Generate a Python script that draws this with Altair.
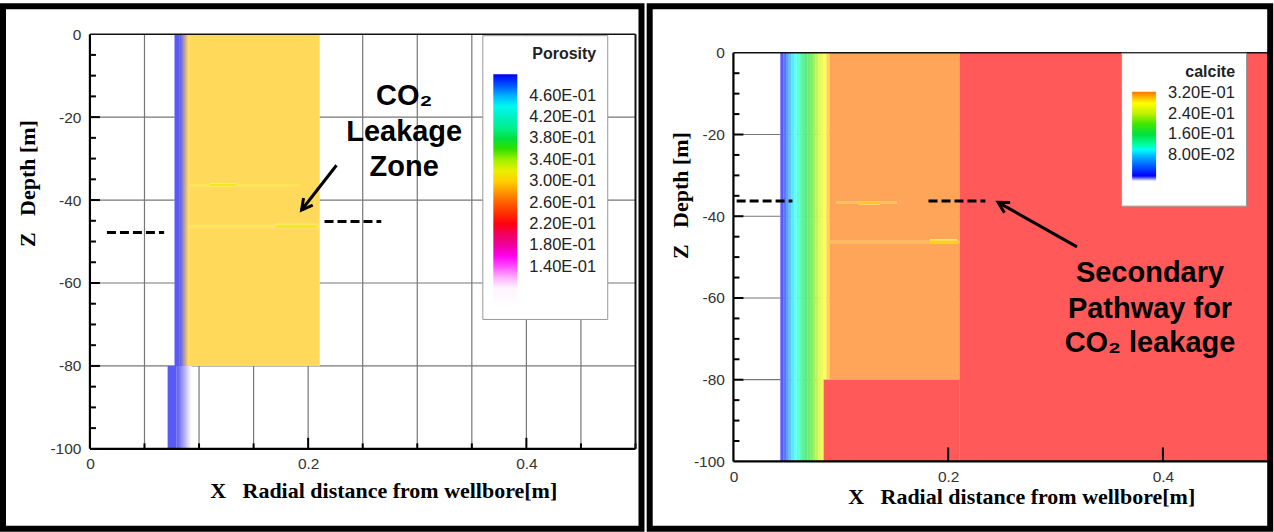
import altair as alt
import pandas as pd

SANS = "Liberation Sans"
SERIF = "Liberation Serif"
NB = "\u00a0"

# ---------------- shared axes / ticks ----------------
X_DOMAIN = [0.0, 0.5]
LEFT_Y_DOMAIN = [-100, 0]
RIGHT_Y_DOMAIN = [-100, 4.55]   # room above z=0 so both plot tops line up
x_label_values = [0, 0.2, 0.4]
y_label_values = [0, -20, -40, -60, -80, -100]
x_grid_values = [0.05, 0.10, 0.15, 0.20, 0.25, 0.30, 0.35, 0.40, 0.45]
y_grid_values = [-20, -40, -60, -80]
y_major_ticks = [-20, -40, -60, -80]
y_minor_ticks = [-5, -10, -15, -25, -30, -35, -45, -50, -55, -65, -70, -75, -85, -90, -95]
left_x_major_ticks = [0.2, 0.4]
left_x_minor_ticks = [0.05, 0.10, 0.15, 0.25, 0.30, 0.35, 0.45, 0.50]
right_x_major_ticks = [0.2, 0.4]
z_top, z_bottom = 0, -100
x_left, x_right = 0.0, 0.5
X_TITLE = "X" + NB * 3 + "Radial distance from wellbore[m]"
Y_TITLE = "Z" + NB * 3 + "Depth [m]"

# ---------------- left panel: porosity ----------------
por_domain = [0.063, 0.10, 0.12, 0.14, 0.16, 0.18, 0.20, 0.22, 0.24, 0.26, 0.28, 0.30,
              0.32, 0.34, 0.36, 0.38, 0.40, 0.42, 0.44, 0.46, 0.48, 0.50]
por_colors = ["#FFFFFF", "#FFF4FF", "#FFB0FF", "#FF50FF", "#FF00F0", "#F000A0", "#F00060",
              "#FF0010", "#FF3000", "#FF6000", "#FF9800", "#FFD000", "#E8F000",
              "#A0F000", "#30E000", "#00E040", "#00F090", "#00F0C0", "#00F8F0",
              "#00B0FF", "#0050FF", "#0000F0"]
por_legend_values = [0.14, 0.18, 0.22, 0.26, 0.30, 0.34, 0.38, 0.42, 0.46]

por_x0 = [0.0775, 0.0900, 0.0712]
por_x1 = [0.0824, 0.2106, 0.0794]
por_ztop = [0, 0, -80]
por_zbot = [-80, -80, -100]
por_val = [0.50, 0.296, 0.50]

blend_x0 = [0.0824]
blend_x1 = [0.0900]
blend_ztop = [0]
blend_zbot = [-80]
fade_x0 = [0.0794]
fade_x1 = [0.0931]
fade_ztop = [-80]
fade_zbot = [-100]

por_streak_x0 = [0.092, 0.110, 0.090, 0.170]
por_streak_x1 = [0.192, 0.134, 0.210, 0.208]
por_streak_ztop = [-36.1, -36.0, -46.1, -45.7]
por_streak_zbot = [-36.7, -36.8, -46.8, -46.7]
por_streak_val = [0.303, 0.313, 0.303, 0.313]

por_dash_x0 = [0.0156, 0.215]
por_dash_x1 = [0.068, 0.267]
por_dash_z = [-47.8, -45.2]

por_arrow_x0 = [0.226]
por_arrow_z0 = [-31.6]
por_arrow_x1 = [0.194]
por_arrow_z1 = [-42.4]

por_text = ["CO\u2082", "Leakage", "Zone"]
por_text_x = [0.288, 0.288, 0.288]
por_text_z = [-14.9, -23.5, -32.0]

# ---------------- right panel: calcite ----------------
cal_domain = [-0.072, -0.0001, 0.0, 0.04, 0.08, 0.10, 0.12, 0.16, 0.20, 0.24, 0.28, 0.30, 0.324]
cal_colors = ["#FFFFFF", "#FFFFFF", "#0000FF", "#0060FF", "#00C0FF", "#00FFFF", "#00FFA0", "#00E040",
              "#40E800", "#C0F000", "#FFFF00", "#FFC000", "#FF7400"]
cal_legend_values = [0.08, 0.16, 0.24, 0.32]

cal_x0 = [0.0437, 0.0465, 0.0490, 0.0515, 0.0540, 0.0565, 0.0590, 0.0615, 0.0640, 0.0665,
          0.0690, 0.0715, 0.0740, 0.0765, 0.0790, 0.0815, 0.0840, 0.0865, 0.0896]
cal_x1 = [0.0465, 0.0490, 0.0515, 0.0540, 0.0565, 0.0590, 0.0615, 0.0640, 0.0665, 0.0690,
          0.0715, 0.0740, 0.0765, 0.0790, 0.0815, 0.0840, 0.0865, 0.0896, 0.2105]
cal_ztop = [0, 0, 0, 0, 0, 0, 0, 0, 0, 0, 0, 0, 0, 0, 0, 0, 0, 0, 0]
cal_zbot = [-100, -100, -100, -100, -100, -100, -100, -100, -100, -100,
            -100, -100, -100, -100, -100, -100, -80, -80, -80]
cal_val = [0.000, 0.020, 0.045, 0.070, 0.090, 0.102, 0.115, 0.130, 0.150, 0.165,
           0.180, 0.195, 0.215, 0.230, 0.250, 0.265, 0.280, 0.300, 0.324]

red_x0 = [0.2105, 0.0840]
red_x1 = [0.5, 0.2105]
red_ztop = [0, -80]
red_zbot = [-100, -100]

cal_streak_x0 = [0.096, 0.117, 0.090, 0.183]
cal_streak_x1 = [0.152, 0.136, 0.2105, 0.208]
cal_streak_ztop = [-36.4, -36.3, -46.0, -45.6]
cal_streak_zbot = [-37.0, -37.1, -46.6, -46.6]
cal_streak_val = [0.310, 0.296, 0.312, 0.292]

cal_dash_x0 = [0.003, 0.1817]
cal_dash_x1 = [0.055, 0.2347]
cal_dash_z = [-36.3, -36.3]

cal_arrow_x0 = [0.320]
cal_arrow_z0 = [-47.5]
cal_arrow_x1 = [0.2465]
cal_arrow_z1 = [-36.6]

cal_text = ["Secondary", "Pathway for", "CO\u2082 leakage"]
cal_text_x = [0.388, 0.388, 0.388]
cal_text_z = [-53.9, -62.6, -71.1]

SCI = ("format(datum.value / pow(10, floor(log(datum.value) / LN10)), '.2f') + 'E-0' + "
       "(-floor(log(datum.value) / LN10))")


def x_axis(tx, ty):
    return alt.Axis(values=x_label_values, labelExpr="'' + datum.value", ticks=False, grid=False,
                    domain=False, labelFont=SANS, labelFontSize=15.5,
                    labelColor="#333333", labelPadding=8, labelFlush=False, title=X_TITLE,
                    titleFont=SERIF, titleFontSize=22, titleFontWeight="bold", titleColor="black",
                    titleX=tx, titleY=ty, titleBaseline="middle", titleAlign="center")


def y_axis(tx, ty):
    return alt.Axis(values=y_label_values, labelExpr="'' + datum.value", ticks=False, grid=False,
                    domain=False, labelFont=SANS, labelFontSize=15.5,
                    labelColor="#333333", labelPadding=9, labelFlush=False, title=Y_TITLE,
                    titleFont=SERIF, titleFontSize=22, titleFontWeight="bold", titleColor="black",
                    titleX=tx, titleY=ty, titleAngle=270, titleBaseline="middle",
                    titleAlign="center")


def legend(title, lx, ly, length, values):
    return alt.Legend(title=title, orient="none", legendX=lx, legendY=ly, direction="vertical",
                      gradientLength=length, gradientThickness=24, values=values, labelExpr=SCI,
                      labelFont=SANS, labelFontSize=16.5, labelColor="#222222", labelOffset=12,
                      labelOverlap=False, titleFont=SANS, titleFontSize=16, titleFontWeight="bold",
                      titleColor="#222222", titleAnchor="end", titlePadding=12, padding=11,
                      fillColor="white", strokeColor="#999999", gradientStrokeWidth=0)


def cells(x0, x1, z0, z1, val=None):
    d = {"x0": x0, "x1": x1, "z0": z0, "z1": z1}
    if val is not None:
        d["val"] = val
    return pd.DataFrame(d)


def panel(W, H, ydom, color, field_fn, streak_df, dash, arrow, angle, texts,
          x_major, x_major_len, x_minor, frame, xt, yt):
    XA = x_axis(*xt)
    YA = y_axis(*yt)
    XS = alt.Scale(domain=X_DOMAIN, nice=False, zero=False)
    YS = alt.Scale(domain=ydom, nice=False, zero=False)

    def xf(f):
        return alt.X(f"{f}:Q", scale=XS, axis=XA)

    def yf(f):
        return alt.Y(f"{f}:Q", scale=YS, axis=YA)

    def rect_base(df):
        return alt.Chart(df).encode(x=xf("x0"), x2="x1", y=yf("z0"), y2="z1")

    def pastel(df, col):
        base = rect_base(df)
        return [base.mark_rect(color="white"), base.mark_rect(fillOpacity=0.65).encode(color=col)]

    def vlines(vals, color, width):
        df = pd.DataFrame({"g": vals, "a": [z_top] * len(vals), "b": [z_bottom] * len(vals)})
        return alt.Chart(df).mark_rule(color=color, strokeWidth=width).encode(x=xf("g"), y=yf("a"), y2="b")

    def hlines(vals, color, width):
        return alt.Chart(pd.DataFrame({"g": vals})).mark_rule(color=color, strokeWidth=width).encode(y=yf("g"))

    layers = [vlines(x_grid_values, "#777777", 1.2), hlines(y_grid_values, "#777777", 1.2)]
    layers += field_fn(rect_base, pastel)
    layers += pastel(streak_df, color)
    layers.append(alt.Chart(pd.DataFrame({"x0": dash[0], "x1": dash[1], "z": dash[2]}))
                  .mark_rule(color="black", strokeWidth=3, strokeDash=[9, 4])
                  .encode(x=xf("x0"), x2="x1", y=yf("z")))
    adf = pd.DataFrame({"x0": arrow[0], "z0": arrow[1], "x1": arrow[2], "z1": arrow[3]})
    layers.append(alt.Chart(adf).mark_rule(color="black", strokeWidth=3)
                  .encode(x=xf("x0"), y=yf("z0"), x2="x1", y2="z1"))
    layers.append(alt.Chart(adf).mark_point(shape="M -0.55 1 L 0 0 L 0.55 1", filled=False, size=450,
                                            strokeWidth=3, color="black", opacity=1, angle=angle,
                                            strokeJoin="miter")
                  .encode(x=xf("x1"), y=yf("z1")))
    layers.append(alt.Chart(pd.DataFrame({"t": texts[0], "x": texts[1], "z": texts[2]}))
                  .mark_text(font=SANS, fontSize=29, fontWeight="bold", color="black",
                             align="center", baseline="middle")
                  .encode(x=xf("x"), y=yf("z"), text="t:N"))
    layers.append(alt.Chart(pd.DataFrame({"t": x_major})).mark_rule(color="black", strokeWidth=2)
                  .encode(x=xf("t"), y=alt.value(H), y2=alt.value(H - x_major_len)))
    if x_minor:
        layers.append(alt.Chart(pd.DataFrame({"t": x_minor})).mark_rule(color="black", strokeWidth=2)
                      .encode(x=xf("t"), y=alt.value(H), y2=alt.value(H - 5.5)))
    layers.append(alt.Chart(pd.DataFrame({"t": y_major_ticks})).mark_rule(color="black", strokeWidth=2)
                  .encode(y=yf("t"), x=alt.value(0), x2=alt.value(10)))
    layers.append(alt.Chart(pd.DataFrame({"t": y_minor_ticks})).mark_rule(color="black", strokeWidth=2)
                  .encode(y=yf("t"), x=alt.value(0), x2=alt.value(6)))
    # plot frame lines
    layers.append(hlines([z_top], "#111111", 1.6))
    layers.append(hlines([z_bottom], "black", 2.2))
    layers.append(vlines([x_left], "black", 2.2))
    layers.append(vlines([x_right], "#111111", 2))
    layers.append(alt.Chart(pd.DataFrame({"k": [0]})).mark_rect(filled=False, color="black", strokeWidth=6)
                  .encode(x=alt.value(frame[0]), x2=alt.value(frame[1]),
                          y=alt.value(frame[2]), y2=alt.value(frame[3])))
    return alt.layer(*layers).properties(width=W, height=H)


# ---- left
LW, LH = 546, 415
por_color = alt.Color("por:Q", scale=alt.Scale(domain=por_domain, range=por_colors, interpolate="rgb"),
                      legend=legend("Porosity", 392.7, 1, 234, por_legend_values))
blue_pastel = "#5959F5"
yellow_pastel = "#FFD959"


def left_field(rect_base, pastel):
    out = pastel(cells(por_x0, por_x1, por_ztop, por_zbot, por_val).rename(columns={"val": "por"}),
                 por_color)
    out.append(rect_base(cells(blend_x0, blend_x1, blend_ztop, blend_zbot)).mark_rect(
        fill=alt.LinearGradient(gradient="linear", x1=0, x2=1, y1=0, y2=0,
                                stops=[alt.GradientStop(offset=0, color=blue_pastel),
                                       alt.GradientStop(offset=1, color=yellow_pastel)])))
    out.append(rect_base(cells(fade_x0, fade_x1, fade_ztop, fade_zbot)).mark_rect(
        fill=alt.LinearGradient(gradient="linear", x1=0, x2=1, y1=0, y2=0,
                                stops=[alt.GradientStop(offset=0, color=blue_pastel),
                                       alt.GradientStop(offset=1, color="#FFFFFF")])))
    return out


left = panel(LW, LH, LEFT_Y_DOMAIN, por_color, left_field,
             cells(por_streak_x0, por_streak_x1, por_streak_ztop, por_streak_zbot,
                   por_streak_val).rename(columns={"val": "por"}),
             (por_dash_x0, por_dash_x1, por_dash_z),
             (por_arrow_x0, por_arrow_z0, por_arrow_x1, por_arrow_z1), 218,
             (por_text, por_text_x, por_text_z),
             left_x_major_ticks, 11, left_x_minor_ticks,
             (-87, 552, -28, 495), (293.5, 41.5), (-62, 149))

# ---- right
RW, RH = 537.25, 427.6
cal_color = alt.Color("cal:Q", scale=alt.Scale(domain=cal_domain, range=cal_colors, interpolate="rgb"),
                      legend=legend("calcite", 388, 18.6, 103, cal_legend_values))


def right_field(rect_base, pastel):
    out = pastel(cells(cal_x0, cal_x1, cal_ztop, cal_zbot, cal_val).rename(columns={"val": "cal"}),
                 cal_color)
    out += pastel(cells(red_x0, red_x1, red_ztop, red_zbot), alt.value("#FF0000"))
    return out


right = panel(RW, RH, RIGHT_Y_DOMAIN, cal_color, right_field,
              cells(cal_streak_x0, cal_streak_x1, cal_streak_ztop, cal_streak_zbot,
                    cal_streak_val).rename(columns={"val": "cal"}),
              (cal_dash_x0, cal_dash_x1, cal_dash_z),
              (cal_arrow_x0, cal_arrow_z0, cal_arrow_x1, cal_arrow_z1), 299.7,
              (cal_text, cal_text_x, cal_text_z),
              right_x_major_ticks, 14, None,
              (-83.8, 537.2, -28, 495), (288, 35.5), (-53.4, 161))

chart = (alt.concat(left, right, columns=2, spacing=2, align="none")
         .resolve_scale(color="independent")
         .properties(padding={"left": 0, "top": 3, "right": 0, "bottom": 0}, background="white")
         .configure_view(strokeWidth=0))

chart.save("out.html", embed_options={"renderer": "svg", "actions": False})
